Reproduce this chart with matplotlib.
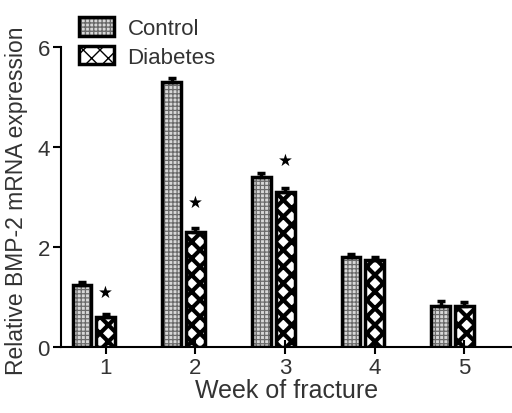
import numpy as np
import matplotlib
matplotlib.use('Agg')
import matplotlib.pyplot as plt
from matplotlib.patches import Patch

plt.rcParams['font.family'] = ['Liberation Sans', 'DejaVu Sans']

weeks = [1, 2, 3, 4, 5]
control = [1.25, 5.3, 3.4, 1.8, 0.82]
control_err = [0.06, 0.08, 0.08, 0.07, 0.1]
diabetes = [0.6, 2.3, 3.1, 1.75, 0.82]
diabetes_err = [0.07, 0.08, 0.08, 0.06, 0.08]
star_y = [1.1, 2.9, 3.75]
star_weeks = [1, 2, 3]

x = np.array(weeks)
w = 0.21
txt = '#333333'

fig = plt.figure(figsize=(5.12, 4.14), dpi=100)
ax = fig.add_axes([0.119, 0.159, 0.881, 0.725])

# fill layers (hatch colour comes from edgecolor)
with plt.rc_context({'hatch.linewidth': 0.9}):
    ax.bar(x - 0.265, control, w, color='#d8d8d8', edgecolor='#6a6a6a',
           linewidth=0, hatch='++++')
with plt.rc_context({'hatch.linewidth': 3.0}):
    ax.bar(x, diabetes, w, color='white', edgecolor='black',
           linewidth=0, hatch='xx')

# outlines + error bars
ax.bar(x - 0.265, control, w, fill=False, edgecolor='black', linewidth=2.5,
       yerr=[np.zeros(5), control_err], capsize=3,
       error_kw=dict(elinewidth=2.5, capthick=2.5, ecolor='black'))
ax.bar(x, diabetes, w, fill=False, edgecolor='black', linewidth=2.5,
       yerr=[np.zeros(5), diabetes_err], capsize=3,
       error_kw=dict(elinewidth=2.5, capthick=2.5, ecolor='black'))

for wk, sy in zip(star_weeks, star_y):
    ax.text(wk, sy, '★', ha='center', va='center', fontsize=12, color='black',
            family=['DejaVu Sans'])

ax.set_xlim(0.5, 5.53)
ax.set_ylim(0, 6)
ax.set_yticks([0, 2, 4, 6])
ax.set_xticks(weeks)
ax.spines['top'].set_visible(False)
ax.spines['right'].set_visible(False)
ax.spines['left'].set_linewidth(1.5)
ax.spines['bottom'].set_linewidth(1.5)
ax.tick_params(width=1.5, length=6, labelsize=16, labelcolor=txt, pad=2)
ax.tick_params(axis='x', direction='inout', length=10)

ax.set_xlabel('Week of fracture', fontsize=18, color=txt, labelpad=0)
ax.set_ylabel('Relative BMP-2 mRNA expression', fontsize=16.5, color=txt)
ax.yaxis.set_label_coords(-0.074, 0.49)

# legend handles built from the same styles
with plt.rc_context({'hatch.linewidth': 0.9}):
    h1 = Patch(facecolor='#d8d8d8', edgecolor='#6a6a6a', hatch='++++', linewidth=0)
with plt.rc_context({'hatch.linewidth': 3.0}):
    h2 = Patch(facecolor='white', edgecolor='black', hatch='xx', linewidth=0)
ob1 = Patch(fill=False, edgecolor='black', linewidth=2.5)
ob2 = Patch(fill=False, edgecolor='black', linewidth=2.5)
ax.legend([(h1, ob1), (h2, ob2)], ['Control', 'Diabetes'],
          loc='upper left', bbox_to_anchor=(-0.005, 1.165), frameon=False, fontsize=16,
          handlelength=1.6, handleheight=0.9, labelspacing=0.3, handletextpad=0.6,
          labelcolor=txt)

fig.savefig('out.png', dpi=100)
